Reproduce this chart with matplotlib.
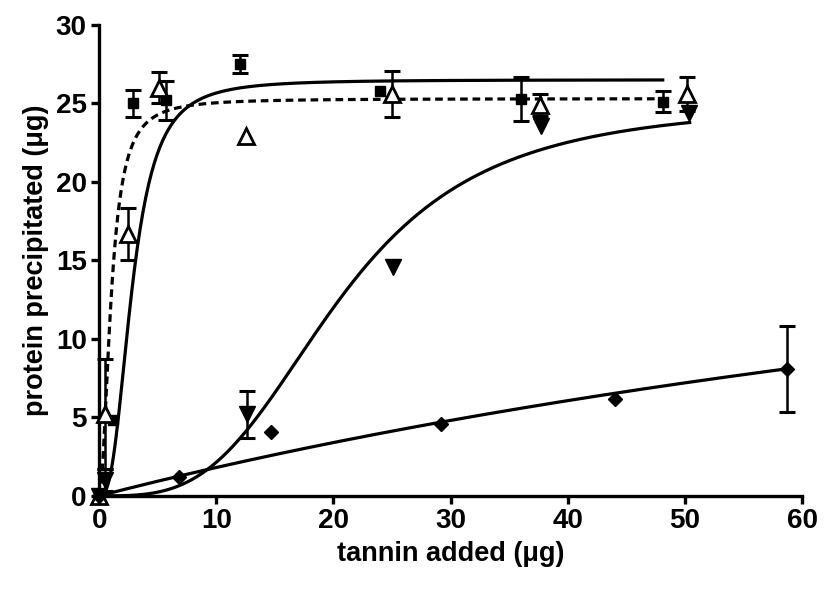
import numpy as np
import matplotlib
matplotlib.use("Agg")
import matplotlib.pyplot as plt

plt.rcParams['font.family'] = ['Liberation Sans', 'DejaVu Sans']

# ---- data ----
sq_x = [0.0, 1.2, 2.85, 5.7, 12.0, 24.0, 36.0, 48.1]
sq_y = [0.0, 4.8, 25.0, 25.2, 27.5, 25.8, 25.3, 25.1]
sq_e = [0.0, 0.0, 0.87, 1.25, 0.6, 0.0, 1.4, 0.67]

tri_x = [0.0, 0.5, 2.5, 5.15, 12.5, 25.0, 37.6, 50.2]
tri_y = [0.0, 5.2, 16.7, 26.0, 22.9, 25.6, 24.9, 25.6]
tri_e = [0.0, 3.5, 1.65, 1.0, 0.0, 1.45, 0.7, 1.1]

dt_x = [0.0, 0.5, 12.6, 25.1, 37.7, 50.3]
dt_y = [0.0, 1.0, 5.2, 14.6, 23.55, 24.4]
dt_e = [0.0, 0.7, 1.5, 0.0, 0.0, 0.0]

dm_x = [0.0, 6.85, 14.65, 29.2, 44.0, 58.7]
dm_y = [0.0, 1.19, 4.09, 4.57, 6.16, 8.07]
dm_e = [0.0, 0.0, 0.0, 0.0, 0.0, 2.75]

# fitted curve parameters (Bmax, K, Hill slope, x end)
sq_fit = (25.3, 1.03, 2.0, 48.3)
tri_fit = (26.5, 2.82, 2.7, 48.1)
dt_fit = (25.0, 20.5, 3.3, 50.4)
dm_fit = (28.4, 147.3, 1.0, 58.7)

xticks = [0, 10, 20, 30, 40, 50, 60]
yticks = [0, 5, 10, 15, 20, 25, 30]


def hill(p):
    bmax, k, h, xend = p
    x = np.linspace(0, xend, 400)
    return x, bmax * x ** h / (k ** h + x ** h)


fig = plt.figure(figsize=(8.33, 5.91), dpi=100)
ax = fig.add_axes([0.119, 0.161, 0.844, 0.797])

lw = 2.3
x, y = hill(sq_fit)
ax.plot(x, y, color='black', lw=lw, ls=(0, (2.4, 1.5)), zorder=2)
for p in (tri_fit, dt_fit, dm_fit):
    x, y = hill(p)
    ax.plot(x, y, color='black', lw=lw, zorder=2)


def errs(xs, ys, es):
    xs, ys, es = np.asarray(xs), np.asarray(ys), np.asarray(es)
    m = es > 0
    ax.errorbar(xs[m], ys[m], yerr=es[m], fmt='none', ecolor='black',
                elinewidth=1.8, capsize=6, capthick=2.2, zorder=3)


errs(sq_x, sq_y, sq_e)
errs(tri_x, tri_y, tri_e)
errs(dt_x, dt_y, dt_e)
errs(dm_x, dm_y, dm_e)

ax.plot(sq_x, sq_y, 's', color='black', ms=7.5, ls='none', zorder=4)
ax.plot(tri_x, tri_y, '^', mfc='white', mec='black', mew=2, ms=11, ls='none', zorder=4)
ax.plot(dt_x, dt_y, 'v', color='black', ms=11, ls='none', zorder=4)
ax.plot(dm_x, dm_y, 'D', color='black', ms=7.5, ls='none', zorder=4)

ax.set_xlim(0, 60)
ax.set_ylim(0, 30)
ax.set_xticks(xticks)
ax.set_yticks(yticks)
for s in ('top', 'right'):
    ax.spines[s].set_visible(False)
for s in ('left', 'bottom'):
    ax.spines[s].set_linewidth(2.4)
ax.tick_params(axis='both', direction='out', length=6, width=2.4,
               labelsize=20, pad=3)
for lab in ax.get_xticklabels() + ax.get_yticklabels():
    lab.set_fontweight('bold')

ax.set_xlabel('tannin added (\u03bcg)', fontsize=19.5, fontweight='bold', labelpad=5)
ax.set_ylabel('protein precipitated (\u03bcg)', fontsize=19.5, fontweight='bold', labelpad=5)
for a in ax.collections + ax.lines:
    a.set_clip_on(False)

fig.savefig('out.png', dpi=100)
